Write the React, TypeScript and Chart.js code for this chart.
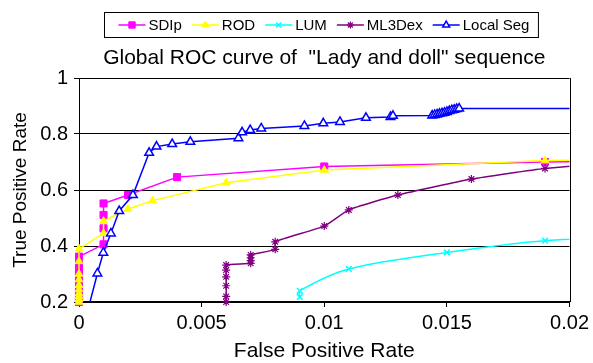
import React, { useEffect, useRef } from 'react';
import { Chart, registerables } from 'chart.js';
import { drawPoint } from 'chart.js/helpers';

Chart.register(...registerables);

const titleText = 'Global ROC curve of  "Lady and doll" sequence';
const xAxisTitle = 'False Positive Rate';
const yAxisTitle = 'True Positive Rate';

const xTicks = [0, 0.005, 0.01, 0.015, 0.02];
const xTickLabels = ['0', '0.005', '0.01', '0.015', '0.02'];
const yTicks = [0.2, 0.4, 0.6, 0.8, 1];
const yTickLabels = ['0.2', '0.4', '0.6', '0.8', '1'];

const sdipX = [0, 0, 0, 0, 0, 0, 0, 0, 0, 0, 0.001, 0.001, 0.001, 0.001, 0.002, 0.004, 0.01, 0.019, 0.025];
const sdipY = [0.2, 0.21, 0.22, 0.235, 0.25, 0.27, 0.29, 0.31, 0.335, 0.362, 0.406, 0.463, 0.511, 0.552, 0.582, 0.646, 0.684, 0.7, 0.705];

const rodX = [0, 0, 0, 0, 0, 0, 0, 0, 0, 0, 0.001, 0.001, 0.002, 0.003, 0.006, 0.01, 0.019, 0.025];
const rodY = [0.2, 0.21, 0.22, 0.23, 0.245, 0.26, 0.28, 0.3, 0.345, 0.39, 0.445, 0.489, 0.532, 0.562, 0.626, 0.671, 0.705, 0.71];

const lumX = [0.009, 0.009, 0.011, 0.015, 0.019, 0.025];
const lumY = [0.218, 0.24, 0.318, 0.377, 0.419, 0.44];

const ml3X = [0.006, 0.006, 0.006, 0.006, 0.006, 0.006, 0.007, 0.007, 0.007, 0.007, 0.008, 0.008, 0.01, 0.011, 0.013, 0.016, 0.019, 0.025];
const ml3Y = [0.2, 0.22, 0.258, 0.29, 0.314, 0.332, 0.338, 0.348, 0.358, 0.368, 0.388, 0.415, 0.471, 0.529, 0.582, 0.639, 0.677, 0.72];

const segX = [0.00033, 0.00075, 0.00099, 0.0013, 0.00164, 0.0022, 0.00286, 0.00316, 0.0038, 0.00454, 0.0065, 0.00665, 0.00698, 0.00743, 0.00919, 0.00996, 0.01064, 0.0117, 0.0127, 0.0128, 0.0144, 0.0145, 0.0146, 0.0147, 0.0148, 0.0149, 0.015, 0.0151, 0.0152, 0.0153, 0.0154, 0.0155, 0.025];
const segY = [0.16, 0.302, 0.376, 0.445, 0.525, 0.582, 0.733, 0.755, 0.764, 0.772, 0.785, 0.806, 0.814, 0.82, 0.829, 0.838, 0.843, 0.858, 0.861, 0.865, 0.866, 0.868, 0.87, 0.872, 0.874, 0.876, 0.879, 0.882, 0.885, 0.887, 0.889, 0.891, 0.891];

const seriesNames = ['SDIp', 'ROD', 'LUM', 'ML3Dex', 'Local Seg'];

const FONT = '"Liberation Sans", Arial, Helvetica, sans-serif';

const pts = (xs: number[], ys: number[]) => xs.map((x, i) => ({ x, y: ys[i] }));

const legendPlugin = {
  id: 'boxLegend',
  afterDraw(chart: any) {
    const ctx = chart.ctx as CanvasRenderingContext2D;
    const area = chart.chartArea;
    ctx.save();
    ctx.font = `15px ${FONT}`;
    const lineLen = 27;
    const textGap = 3;
    const itemGap = 10;
    const padL = 14;
    const padR = 9;
    const dss = chart.data.datasets;
    const widths = dss.map((d: any) => ctx.measureText(d.label).width);
    const total = widths.reduce((a: number, w: number) => a + lineLen + textGap + w, 0) + itemGap * (dss.length - 1);
    const boxW = total + padL + padR;
    const cx = (area.left + area.right) / 2 - 3;
    const left = Math.round(cx - boxW / 2) + 0.5;
    const top = 12.5;
    const h = 25;
    ctx.strokeStyle = '#000';
    ctx.lineWidth = 1;
    ctx.strokeRect(left, top, boxW, h);
    let x = left + padL;
    const cy = top + h / 2;
    dss.forEach((d: any, i: number) => {
      ctx.strokeStyle = d.borderColor;
      ctx.lineWidth = 1.5;
      ctx.beginPath();
      ctx.moveTo(x, cy);
      ctx.lineTo(x + lineLen, cy);
      ctx.stroke();
      ctx.fillStyle = d.pointBackgroundColor;
      ctx.strokeStyle = d.pointBorderColor;
      ctx.lineWidth = d.pointBorderWidth;
      drawPoint(ctx, { pointStyle: d.pointStyle, radius: d.legendRadius, rotation: 0, borderWidth: d.pointBorderWidth } as any, x + lineLen / 2, cy);
      ctx.fillStyle = '#000';
      ctx.textBaseline = 'middle';
      ctx.textAlign = 'left';
      ctx.fillText(d.label, x + lineLen + textGap, cy + 1);
      x += lineLen + textGap + widths[i] + itemGap;
    });
    ctx.restore();
  },
};

const framePlugin = {
  id: 'frame',
  beforeDatasetsDraw(chart: any) {
    const ctx = chart.ctx as CanvasRenderingContext2D;
    const a = chart.chartArea;
    ctx.save();
    ctx.strokeStyle = '#000';
    ctx.lineWidth = 1;
    ctx.beginPath();
    ctx.moveTo(Math.round(a.right) + 0.5, a.top);
    ctx.lineTo(Math.round(a.right) + 0.5, a.bottom);
    ctx.stroke();
    ctx.restore();
  },
};

export default function App() {
  const ref = useRef<HTMLCanvasElement | null>(null);
  useEffect(() => {
    if (!ref.current) return;
    Chart.defaults.font.family = FONT;
    Chart.defaults.color = '#000';
    const mk = (label: string, xs: number[], ys: number[], color: string, style: string, radius: number, bg: string, order: number, tension: number, legendRadius: number, bw: number, clipBottom: number) => ({
      label,
      data: pts(xs, ys),
      borderColor: color,
      backgroundColor: bg,
      borderWidth: 1.5,
      pointStyle: style,
      pointRadius: radius,
      pointBackgroundColor: bg,
      pointBorderColor: color,
      pointBorderWidth: bw,
      tension,
      order,
      fill: false,
      legendRadius,
      clip: { left: 8, top: 0, right: 0, bottom: clipBottom },
    });
    const chart = new Chart(ref.current, {
      type: 'line',
      data: {
        datasets: [
          mk(seriesNames[0], sdipX, sdipY, '#FF00FF', 'rect', 5, '#FF00FF', 4, 0, 4.5, 1, 7),
          mk(seriesNames[1], rodX, rodY, '#FFFF00', 'triangle', 4.5, '#FFFF00', 3, 0, 4, 1, 7),
          mk(seriesNames[2], lumX, lumY, '#00FFFF', 'crossRot', 4, '#00FFFF', 2, 0.3, 3.5, 1.5, 7),
          mk(seriesNames[3], ml3X, ml3Y, '#800080', 'star', 4, '#800080', 1, 0.15, 3.5, 1.2, 7),
          mk(seriesNames[4], segX, segY, '#0000FF', 'triangle', 5, '#FFFFFF', 0, 0, 4, 1.5, 0),
        ] as any,
      },
      options: {
        responsive: false,
        devicePixelRatio: 1,
        animation: false,
        events: [],
        layout: { padding: { top: 40, right: 22, left: 0, bottom: 0 } },
        plugins: {
          legend: { display: false },
          tooltip: { enabled: false },
          title: {
            display: true,
            text: titleText,
            fullSize: false,
            color: '#000',
            font: { family: FONT, size: 21, weight: 'normal' as any, lineHeight: 1.2 },
            padding: { top: 5.5, bottom: 7.3 },
          },
        },
        scales: {
          x: {
            type: 'linear',
            min: 0,
            max: 0.02,
            afterFit: (s: any) => { s.height = 61; },
            afterBuildTicks: (s: any) => { s.ticks = xTicks.map((v) => ({ value: v })); },
            ticks: {
              autoSkip: false,
              maxRotation: 0,
              padding: 4,
              color: '#000',
              font: { family: FONT, size: 20 },
              callback: (_v: any, i: number) => xTickLabels[i],
            },
            grid: { drawOnChartArea: false, drawTicks: true, tickLength: 5, color: '#000', lineWidth: 1 },
            border: { display: true, color: '#000', width: 2 },
            title: { display: true, text: xAxisTitle, color: '#000', font: { family: FONT, size: 21 }, padding: { top: 0, bottom: -1 } },
          },
          y: {
            type: 'linear',
            min: 0.2,
            max: 1,
            afterFit: (s: any) => { s.width = 79; },
            afterBuildTicks: (s: any) => { s.ticks = yTicks.map((v) => ({ value: v })); },
            ticks: {
              autoSkip: false,
              padding: 6,
              color: '#000',
              font: { family: FONT, size: 20 },
              callback: (_v: any, i: number) => yTickLabels[i],
            },
            grid: { drawOnChartArea: true, drawTicks: true, tickLength: 5, color: '#000', lineWidth: 1 },
            border: { display: true, color: '#000', width: 1 },
            title: { display: true, text: yAxisTitle, color: '#000', font: { family: FONT, size: 19 }, padding: { top: 9, bottom: 0 } },
          },
        },
      },
      plugins: [framePlugin, legendPlugin],
    });
    return () => chart.destroy();
  }, []);
  return (
    <div style={{ position: 'absolute', left: 0, top: 0, width: 593, height: 363, background: '#fff' }}>
      <canvas ref={ref} width={593} height={363} style={{ display: 'block', width: 593, height: 363 }} />
    </div>
  );
}
